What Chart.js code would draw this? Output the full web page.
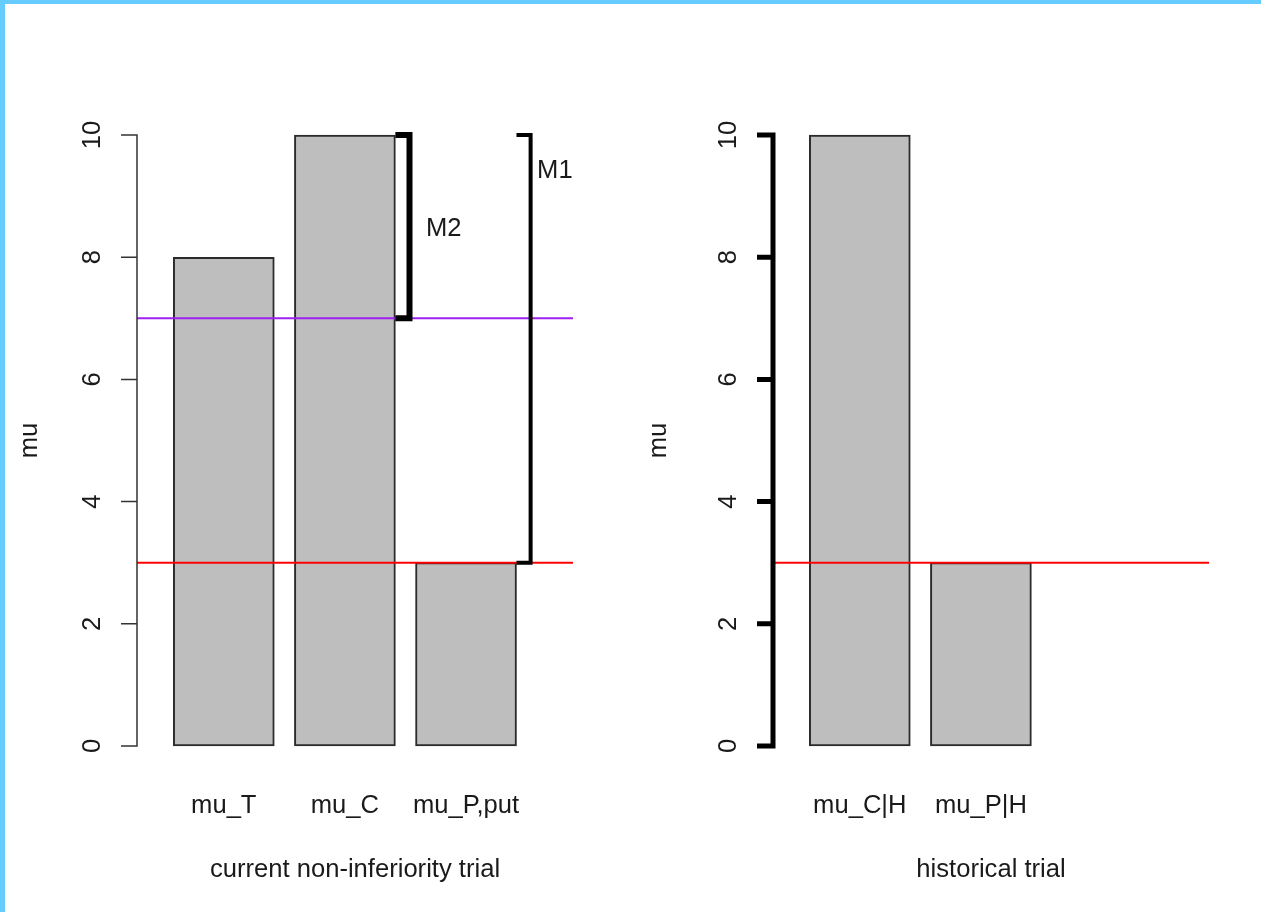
<!DOCTYPE html>
<html>
<head>
<meta charset="utf-8">
<title>non-inferiority trial</title>
<script src="https://cdn.jsdelivr.net/npm/chart.js@4"></script>
<style>
    html, body { margin: 0; padding: 0; background: #fff; }
    #frame {
        position: absolute; left: 0; top: 0; width: 1261px; height: 912px;
        box-sizing: border-box; border-left: 5px solid #66ccff; border-top: 4px solid #66ccff;
    }
    canvas { position: absolute; top: 0; }
    #current { left: 0; }
    #historical { left: 640px; }
</style>
</head>
<body>
<div id="frame"></div>
<canvas id="current" width="640" height="912"></canvas>
<canvas id="historical" width="621" height="912"></canvas>
<script>
// data
const currentLabels = ["mu_T", "mu_C", "mu_P,put"];
const currentValues = [8, 10, 3];
const historicalLabels = ["mu_C|H", "mu_P|H"];
const historicalValues = [10, 3];
const yTicks = [0, 2, 4, 6, 8, 10];
const currentLines = [3, 7];
const historicalLines = [3];
// brackets: [from, to] on the y scale, next to a bar
const m1Range = [3, 10];
const m2Range = [7, 10];

// barplot geometry like R: width 1, space 0.2
const space = 0.2;
function barCenter(i) { return space + i * (1 + space) + 0.5; }
function barRight(i) { return space + i * (1 + space) + 1; }

const textColor = "#1a1a1a";
const font = "25.6px 'Liberation Sans', Arial, sans-serif";

const rPanel = {
    id: "rPanel",
    afterDatasetsDraw(chart, args, opts) {
        const ctx = chart.ctx;
        const xs = chart.scales.x, ys = chart.scales.y;
        const area = chart.chartArea;
        ctx.save();

        // reference lines
        opts.lines.forEach((v, i) => {
            ctx.strokeStyle = opts.lineColors[i];
            ctx.lineWidth = 2;
            ctx.beginPath();
            ctx.moveTo(area.left, ys.getPixelForValue(v));
            ctx.lineTo(area.right, ys.getPixelForValue(v));
            ctx.stroke();
        });

        // y axis
        const ax = area.left;
        ctx.strokeStyle = opts.axisColor;
        ctx.lineWidth = opts.axisWidth;
        ctx.lineCap = "butt";
        ctx.beginPath();
        ctx.moveTo(ax, ys.getPixelForValue(yTicks[0]));
        ctx.lineTo(ax, ys.getPixelForValue(yTicks[yTicks.length - 1]));
        yTicks.forEach(t => {
            const py = ys.getPixelForValue(t);
            ctx.moveTo(ax + opts.axisWidth / 2, py);
            ctx.lineTo(ax - 16, py);
        });
        ctx.stroke();

        ctx.fillStyle = textColor;
        ctx.font = font;
        ctx.textAlign = "center";
        ctx.textBaseline = "alphabetic";
        yTicks.forEach(t => {
            ctx.save();
            ctx.translate(ax - 37, ys.getPixelForValue(t));
            ctx.rotate(-Math.PI / 2);
            ctx.fillText(String(t), 0, 0);
            ctx.restore();
        });

        // y title
        ctx.save();
        ctx.translate(ax - opts.yTitleOffset, (area.top + area.bottom) / 2);
        ctx.rotate(-Math.PI / 2);
        ctx.fillText("mu", 0, 0);
        ctx.restore();

        // bar names and x title
        opts.labels.forEach((l, i) => {
            ctx.fillText(l, xs.getPixelForValue(barCenter(i)), 813);
        });
        ctx.fillText(opts.title, (area.left + area.right) / 2, 877);

        // brackets
        ctx.strokeStyle = "#000";
        ctx.lineCap = "butt";
        ctx.lineJoin = "miter";
        opts.brackets.forEach(b => {
            const x0 = xs.getPixelForValue(barRight(b.bar));
            const x1 = xs.getPixelForValue(barRight(b.bar) + 0.14);
            const y0 = ys.getPixelForValue(b.range[1]);
            const y1 = ys.getPixelForValue(b.range[0]);
            ctx.lineWidth = b.width;
            ctx.beginPath();
            ctx.moveTo(x0, y0);
            ctx.lineTo(x1, y0);
            ctx.lineTo(x1, y1);
            ctx.lineTo(x0, y1);
            ctx.stroke();
            ctx.fillStyle = textColor;
            ctx.textAlign = "center";
            ctx.fillText(b.label, xs.getPixelForValue(b.labelX), ys.getPixelForValue(b.labelY) + 9);
        });
        ctx.restore();
    }
};

function makePanel(id, labels, values, lines, lineColors, title, padLeft, padRight, extra) {
    const ctx = document.getElementById(id).getContext("2d");
    return new Chart(ctx, {
        type: "bar",
        data: {
            datasets: [{
                data: values.map((v, i) => ({ x: barCenter(i), y: v })),
                backgroundColor: "#bebebe",
                borderColor: "#2b2b2b",
                borderWidth: 2,
                borderSkipped: false,
                barThickness: 101
            }]
        },
        options: {
            responsive: false,
            animation: false,
            layout: { padding: { left: padLeft, right: padRight, top: 110.6, bottom: 141.6 } },
            scales: {
                x: { type: "linear", min: -0.16, max: 4.16, offset: false, display: false },
                y: { min: -0.4, max: 10.4, display: false }
            },
            plugins: {
                legend: { display: false },
                tooltip: { enabled: false },
                rPanel: Object.assign({ labels: labels, lines: lines, lineColors: lineColors, title: title }, extra)
            }
        },
        plugins: [rPanel]
    });
}

makePanel("current", currentLabels, currentValues, currentLines, ["#ff0000", "#a020f0"],
    "current non-inferiority trial", 137, 67, {
        axisWidth: 1.5, axisColor: "#333", yTitleOffset: 100,
        brackets: [
            { bar: 1, range: m2Range, width: 6, label: "M2", labelX: 2.88, labelY: 8.5 },
            { bar: 2, range: m1Range, width: 4, label: "M1", labelX: 3.98, labelY: 9.45 }
        ]
    });

makePanel("historical", historicalLabels, historicalValues, historicalLines, ["#ff0000"],
    "historical trial", 133, 52, {
        axisWidth: 5, axisColor: "#000", yTitleOffset: 107,
        brackets: []
    });
</script>
</body>
</html>
